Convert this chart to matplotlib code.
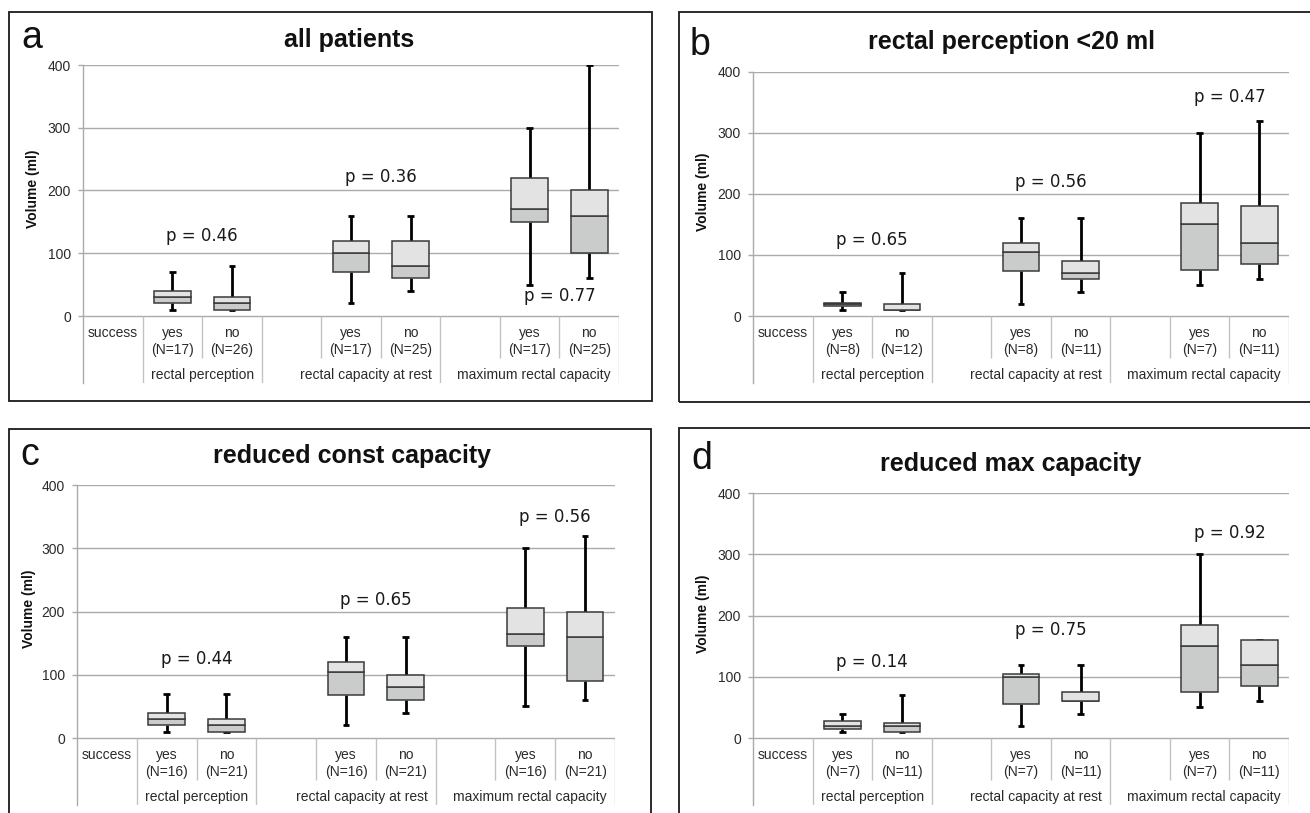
import matplotlib
matplotlib.use("Agg")
import matplotlib.pyplot as plt
from matplotlib.patches import Rectangle
import numpy as np

plt.rcParams['font.family'] = ['Liberation Sans', 'DejaVu Sans']

W, H = 1310, 813

# --- data -----------------------------------------------------------------
groups = ["rectal perception", "rectal capacity at rest", "maximum rectal capacity"]
answers = ["yes", "no"]
letters = ["a", "b", "c", "d"]
titles = ["all patients", "rectal perception <20 ml",
          "reduced const capacity", "reduced max capacity"]

# (low whisker, Q1, median, Q3, high whisker); order: perception yes/no,
# capacity at rest yes/no, maximum capacity yes/no
box_a = [(10, 20, 30, 40, 70), (10, 10, 20, 30, 80),
         (20, 70, 100, 120, 160), (40, 60, 80, 120, 160),
         (50, 150, 170, 220, 300), (60, 100, 160, 200, 400)]
box_b = [(10, 17, 20, 22, 40), (10, 10, 10, 20, 70),
         (20, 73, 105, 120, 160), (40, 60, 70, 90, 160),
         (50, 75, 150, 185, 300), (60, 85, 120, 180, 320)]
box_c = [(10, 20, 30, 40, 70), (10, 10, 20, 30, 70),
         (20, 68, 105, 120, 160), (40, 60, 80, 100, 160),
         (50, 145, 165, 205, 300), (60, 90, 160, 200, 320)]
box_d = [(10, 15, 20, 27, 40), (10, 10, 20, 25, 70),
         (20, 55, 100, 105, 120), (40, 60, 60, 75, 120),
         (50, 75, 150, 185, 300), (60, 85, 120, 160, 160)]

n_a = [17, 26, 17, 25, 17, 25]
n_b = [8, 12, 8, 11, 7, 11]
n_c = [16, 21, 16, 21, 16, 21]
n_d = [7, 11, 7, 11, 7, 11]

p_a = ["0.46", "0.36", "0.77"]
p_b = ["0.65", "0.56", "0.47"]
p_c = ["0.44", "0.65", "0.56"]
p_d = ["0.14", "0.75", "0.92"]

# --- layout (pixels of the 1310x813 picture) -------------------------------
panels = [
    dict(box=box_a, n=n_a, p=p_a, p_y=[128, 222, 32],
         plot=(83, 619, 65, 316), frame=(9, 12, 652, 401),
         title=(349, 47), letter=(21, 48), ylab=(33, 189)),
    dict(box=box_b, n=n_b, p=p_b, p_y=[124, 220, 358],
         plot=(753, 1289, 71.7, 316), frame=(679, 12, 1325, 402),
         title=(1011, 49), letter=(690, 55), ylab=(703, 192)),
    dict(box=box_c, n=n_c, p=p_c, p_y=[125, 218, 350],
         plot=(77, 615, 485, 738), frame=(9, 429, 651, 830),
         title=(352, 463), letter=(20, 465), ylab=(29, 609)),
    dict(box=box_d, n=n_d, p=p_d, p_y=[124, 176, 335],
         plot=(753, 1289, 493, 738), frame=(679, 428, 1325, 830),
         title=(1011, 471), letter=(691, 469), ylab=(703, 614)),
]

TABLE_H = 67          # px below the zero line
SHORT_H = 42          # yes/no separators stop here
ROW1_Y, ROW1B_Y, ROW2_Y = 17, 34, 59

GRID = "#ababab"
TABLE_LINE = "#c2c2c2"
LOW_FILL = "#cacccc"
HIGH_FILL = "#e3e3e3"
EDGE = "#3a3a3a"
TXT = "#2a2a2a"

fig = plt.figure(figsize=(W / 100, H / 100), dpi=100)

centers = np.array([1.5, 2.5, 4.5, 5.5, 7.5, 8.5])
box_w = 0.615
cap_half = 0.056

for k, pn in enumerate(panels):
    l, r, top, zero = pn["plot"]
    plot_h = zero - top
    u = 400.0 / plot_h          # data units per pixel
    ax = fig.add_axes([l / W, 1 - (zero + TABLE_H) / H, (r - l) / W,
                       (zero + TABLE_H - top) / H])
    ax.set_xlim(0, 9)
    ax.set_ylim(-TABLE_H * u, 400)
    for s in ("top", "right", "bottom"):
        ax.spines[s].set_visible(False)
    ax.spines["left"].set_color(GRID)
    ax.spines["left"].set_linewidth(1)
    ax.set_xticks([])
    ax.set_yticks([0, 100, 200, 300, 400])
    ax.tick_params(axis="y", length=3.6, width=1, color=GRID, labelsize=10,
                   labelcolor=TXT, pad=5)
    ax.hlines([0, 100, 200, 300, 400], 0, 9, color=GRID, lw=1, zorder=1)
    ax.patch.set_visible(False)

    stats = np.array(pn["box"], dtype=float)
    lo, q1, med, q3, hi = stats.T
    ax.vlines(centers, lo, q1, color="black", lw=2, zorder=2)
    ax.vlines(centers, q3, hi, color="black", lw=2, zorder=2)
    ax.hlines(lo, centers - cap_half, centers + cap_half, color="black", lw=2, zorder=2)
    ax.hlines(hi, centers - cap_half, centers + cap_half, color="black", lw=2, zorder=2)
    ax.bar(centers, med - q1, bottom=q1, width=box_w, color=LOW_FILL,
           edgecolor=EDGE, linewidth=1.1, zorder=3)
    ax.bar(centers, q3 - med, bottom=med, width=box_w, color=HIGH_FILL,
           edgecolor=EDGE, linewidth=1.1, zorder=3)

    # category table under the plot
    ax.vlines([1, 3, 6, 9], -TABLE_H * u, 0, color=TABLE_LINE, lw=1, zorder=1)
    ax.vlines([2, 4, 5, 7, 8], -SHORT_H * u, 0, color=TABLE_LINE, lw=1, zorder=1)
    ax.text(0.5, -ROW1_Y * u, "success", ha="center", va="center",
            fontsize=10, color=TXT)
    for i, c in enumerate(centers):
        ax.text(c, -ROW1_Y * u, answers[i % 2], ha="center", va="center",
                fontsize=10, color=TXT)
        ax.text(c, -ROW1B_Y * u, f"(N={pn['n'][i]})", ha="center", va="center",
                fontsize=10, color=TXT)
    for g, xr in zip(groups, [3, 6, 9]):
        ax.text(xr - 8 / 59.6, -ROW2_Y * u, g, ha="right", va="center",
                fontsize=10, color=TXT)

    for pv, py, xc in zip(pn["p"], pn["p_y"], [2, 5, 8]):
        ax.text(xc, py, f"p = {pv}", ha="center", va="center", fontsize=12,
                family="DejaVu Sans", color="#1a1a1a", zorder=4)

    x0, y0, x1, y1 = pn["frame"]
    fig.add_artist(Rectangle((x0 / W, 1 - y1 / H), (x1 - x0) / W, (y1 - y0) / H,
                             transform=fig.transFigure, fill=False,
                             edgecolor="#1a1a1a", linewidth=1.3))
    tx, ty = pn["title"]
    fig.text(tx / W, 1 - ty / H, titles[k], ha="center", va="baseline",
             fontsize=18, weight="bold", color="#111111")
    lx, ly = pn["letter"]
    fig.text(lx / W, 1 - ly / H, letters[k], ha="left", va="baseline",
             fontsize=27, color="#111111")
    yx, yy = pn["ylab"]
    fig.text(yx / W, 1 - yy / H, "Volume (ml)", rotation=90, ha="center",
             va="center", fontsize=10, weight="bold", color="#111111")

fig.savefig("out.png", dpi=100)
